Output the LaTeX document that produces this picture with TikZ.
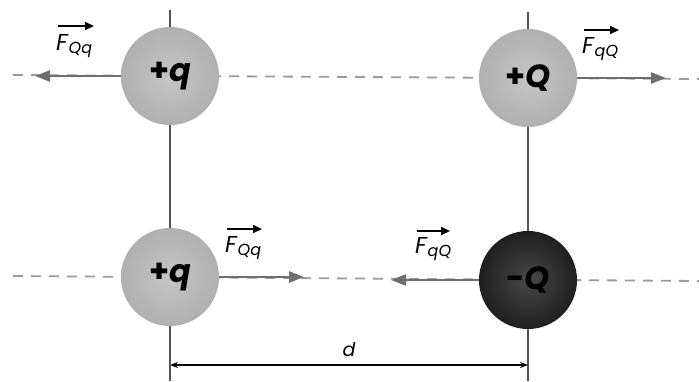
\documentclass[tikz,border=0pt]{standalone}
\usepackage{fontspec}
\setmainfont{Poppins}
\usetikzlibrary{arrows.meta}
\definecolor{forcegray}{HTML}{6E6E6E}
\definecolor{dashgray}{HTML}{9A9A9A}
\definecolor{axisgray}{HTML}{555555}
\tikzset{
  sphere/.style={circle, minimum size=98pt, inner sep=0pt, outer sep=0pt,
    font=\fontsize{32}{34}\selectfont\bfseries},
  lightball/.style={sphere, shading=radial, inner color=gray!45, outer color=gray!62},
  darkball/.style={sphere, shading=radial, inner color=black!72, outer color=black!88, text=black},
  axisline/.style={axisgray, line width=1.4pt},
  dashline/.style={dashgray, line width=1.8pt, dash pattern=on 10pt off 8pt},
  force/.style={forcegray, line width=2.6pt, -{Triangle[length=15pt,width=11pt]}},
  flabel/.style={inner sep=0pt, anchor=north west, font=\fontsize{23}{26}\selectfont},
  vecarr/.style={black, line width=2pt, -{Triangle[length=9pt,width=8pt]}},
  dimline/.style={black, line width=1.3pt, {Stealth[length=8pt,width=6pt]}-{Stealth[length=8pt,width=6pt]}},
}
\newcommand{\Fsub}[1]{\textit{F}\raisebox{-3pt}{\fontsize{16}{17}\selectfont\textit{#1}}}
\begin{document}
\begin{tikzpicture}[x=1pt,y=-1pt]
\useasboundingbox (0,0) rectangle (699,381);
% guide coordinates
\coordinate (dl1) at (13,75);
\coordinate (dr1) at (699,79);
\coordinate (dl2) at (13,276);
\coordinate (dr2) at (699,281);
\coordinate (vt1) at (170,10);
\coordinate (vb1) at (170,381);
\coordinate (vt2) at (528,12);
\coordinate (vb2) at (528,381);
% dashed lines
\draw[dashline] (dl1) -- (dr1);
\draw[dashline] (dl2) -- (dr2);
% vertical lines
\draw[axisline] (vt1) -- (vb1);
\draw[axisline] (vt2) -- (vb2);
% spheres
\node[lightball] (q1) at (170,76) {+\textit{q}};
\node[lightball] (Q1) at (528,78) {+\textit{Q}};
\node[lightball] (q2) at (170,277) {+\textit{q}};
\node[darkball]  (Q2) at (528,280) {-\textit{Q}};
% force arrows
\coordinate (ft1) at (35,76);
\coordinate (ft2) at (666,78);
\coordinate (ft3) at (304,277);
\coordinate (ft4) at (391,280);
\draw[force] (q1.west) -- (ft1);
\draw[force] (Q1.east) -- (ft2);
\draw[force] (q2.east) -- (ft3);
\draw[force] (Q2.west) -- (ft4);
% force labels
\node[flabel] (l1) at (56,34) {\Fsub{Qq}};
\node[flabel] (l2) at (582,37) {\Fsub{qQ}};
\node[flabel] (l3) at (225,236) {\Fsub{Qq}};
\node[flabel] (l4) at (415,237) {\Fsub{qQ}};
\draw[vecarr] ([xshift=2pt,yshift=8pt]l1.north west) -- ++(36,0);
\draw[vecarr] ([xshift=2pt,yshift=7pt]l2.north west) -- ++(35,0);
\draw[vecarr] ([xshift=2pt,yshift=7pt]l3.north west) -- ++(35,0);
\draw[vecarr] ([xshift=2pt,yshift=6pt]l4.north west) -- ++(33,0);
% dimension
\coordinate (da) at (170,365);
\coordinate (db) at (528,365);
\draw[dimline] (da) -- (db);
\node[font=\fontsize{19}{21}\selectfont\itshape] (dlab) at (349,350) {d};
\end{tikzpicture}
\end{document}
